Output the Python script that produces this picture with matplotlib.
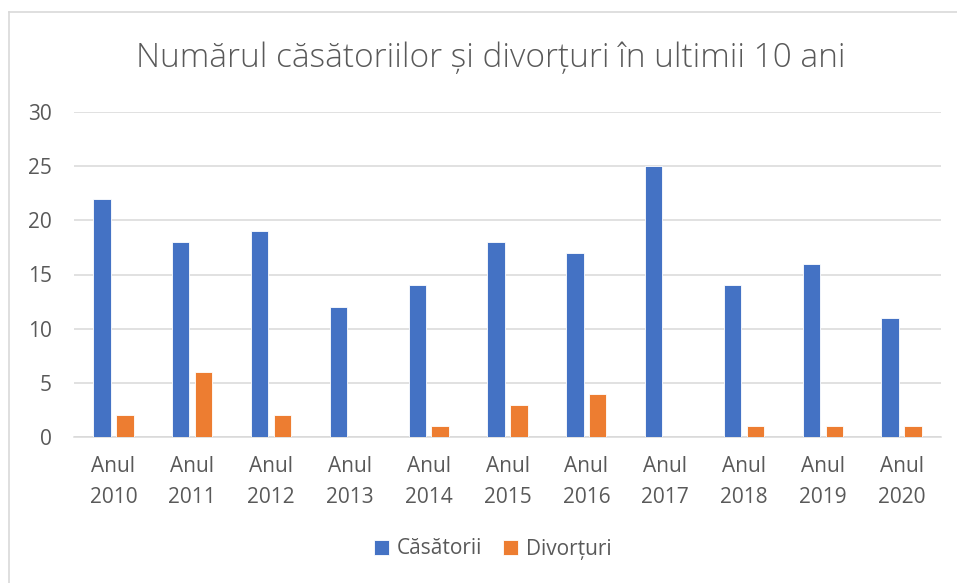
import matplotlib.pyplot as plt
import numpy as np
from matplotlib.lines import Line2D

plt.rcParams['font.family'] = ['Open Sans', 'DejaVu Sans']

# date
ani = ["Anul\n2010", "Anul\n2011", "Anul\n2012", "Anul\n2013", "Anul\n2014", "Anul\n2015",
       "Anul\n2016", "Anul\n2017", "Anul\n2018", "Anul\n2019", "Anul\n2020"]
casatorii = [22, 18, 19, 12, 14, 18, 17, 25, 14, 16, 11]
divorturi = [2, 6, 2, 0, 1, 3, 4, 0, 1, 1, 1]

ALBASTRU = "#4472c4"
PORTOCALIU = "#ed7d31"
TEXT = "#595959"
GRILA = "#d9d9d9"

W, H = 957, 583
fig = plt.figure(figsize=(W / 100, H / 100), dpi=100)
ax = fig.add_axes([74 / W, 1 - 437 / H, 867 / W, 325 / H])

x = np.arange(len(ani))
w = 0.22
ax.bar(x - 0.145, casatorii, w, color=ALBASTRU, edgecolor="white", linewidth=0.6,
       label="Căsătorii", zorder=3)
ax.bar(x + 0.145, divorturi, w, color=PORTOCALIU, edgecolor="white", linewidth=0.6,
       label="Divorțuri", zorder=3)

ax.set_xlim(-0.5, len(ani) - 0.5)
ax.set_ylim(0, 30)
ax.set_yticks(range(0, 31, 5))
ax.set_xticks(x)
ax.set_xticklabels(ani, linespacing=1.6)
ax.tick_params(axis="both", length=0, colors=TEXT, labelsize=15)
ax.tick_params(axis="x", pad=14)
ax.tick_params(axis="y", pad=16)
ax.grid(axis="y", color=GRILA, linewidth=1.1, zorder=0)
for s in ax.spines.values():
    s.set_visible(False)
ax.spines["bottom"].set_visible(True)
ax.spines["bottom"].set_color(GRILA)
ax.spines["bottom"].set_linewidth(1.1)

fig.text(491 / W, 1 - 58 / H, "Numărul căsătoriilor și divorțuri în ultimii 10 ani",
         ha="center", va="center", fontsize=24, color=TEXT, fontweight="light")

fig.legend(loc="center", bbox_to_anchor=(493 / W, 1 - 549 / H), ncol=2, frameon=False,
           fontsize=15, labelcolor=TEXT, handlelength=0.7, handleheight=0.7,
           handletextpad=0.4, columnspacing=1.0)

# chenarul graficului (doar sus si stanga sunt vizibile)
fig.add_artist(Line2D([9 / W, 9 / W], [0, 1 - 12 / H], transform=fig.transFigure,
                      color=GRILA, linewidth=1.2))
fig.add_artist(Line2D([9 / W, 1], [1 - 12 / H, 1 - 12 / H], transform=fig.transFigure,
                      color=GRILA, linewidth=1.2))

fig.savefig("out.png", dpi=100, facecolor="white")
